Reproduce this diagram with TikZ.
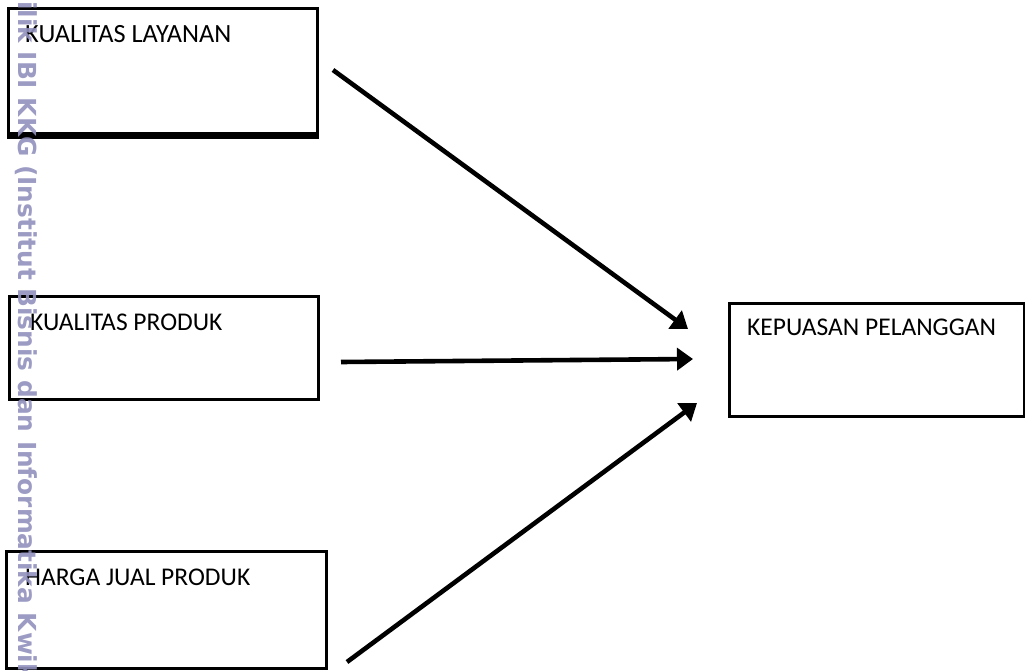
\documentclass[tikz,border=0pt]{standalone}
\usepackage{fontspec}
\setmainfont{Carlito}
\newfontfamily\wmfont{DejaVu Sans}
\usetikzlibrary{arrows.meta,calc}
\definecolor{wm}{RGB}{145,145,190}
\begin{document}
\begin{tikzpicture}[x=1pt,y=-1pt,
  boxstyle/.style={draw=black,line width=3pt,fill=white},
  lbl/.style={anchor=base west,inner sep=0pt,font=\fontsize{25.5}{28}\selectfont},
  arr/.style={line width=4.6pt,-{Triangle[length=16pt,width=22pt]}}]
\useasboundingbox (0,0) rectangle (1025,671);
\fill[white] (0,0) rectangle (1025,671);
% boxes
\node[boxstyle,minimum width=309pt,minimum height=125pt,inner sep=0pt,anchor=north west] (b1) at (7,7) {};
\draw[line width=5pt] ($(b1.south west)+(0,2)$) -- ($(b1.south east)+(0,2)$);
\node[boxstyle,minimum width=309pt,minimum height=103pt,inner sep=0pt,anchor=north west] (b2) at (8,295) {};
\node[boxstyle,minimum width=320pt,minimum height=117pt,inner sep=0pt,anchor=north west] (b3) at (5,550) {};
\node[boxstyle,minimum width=295pt,minimum height=113pt,inner sep=0pt,anchor=north west] (b4) at (728,302) {};
% labels
\node[lbl,font=\fontsize{26.3}{28}\selectfont] (t1) at (25,43) {KUALITAS LAYANAN};
\node[lbl] (t2) at (30,330) {KUALITAS PRODUK};
\node[lbl] (t3) at (25,585) {HARGA JUAL PRODUK};
\node[lbl] (t4) at (747,335) {KEPUASAN PELANGGAN};
% arrows
\coordinate (s1) at (333,70);
\coordinate (e1) at (688,329);
\coordinate (s2) at (341,362);
\coordinate (e2) at (693,359);
\coordinate (s3) at (347,662);
\coordinate (e3) at (697,403);
\draw[arr] (s1) -- (e1);
\draw[arr] (s2) -- (e2);
\draw[arr] (s3) -- (e3);
% watermark
\node[anchor=base west,rotate=-90,inner sep=0pt,text=wm,opacity=0.9,font=\wmfont\bfseries\fontsize{24.8}{27}\selectfont] (wm) at (18,1) {ilik IBI KKG (Institut Bisnis dan Informatika Kwik K};
\end{tikzpicture}
\end{document}
